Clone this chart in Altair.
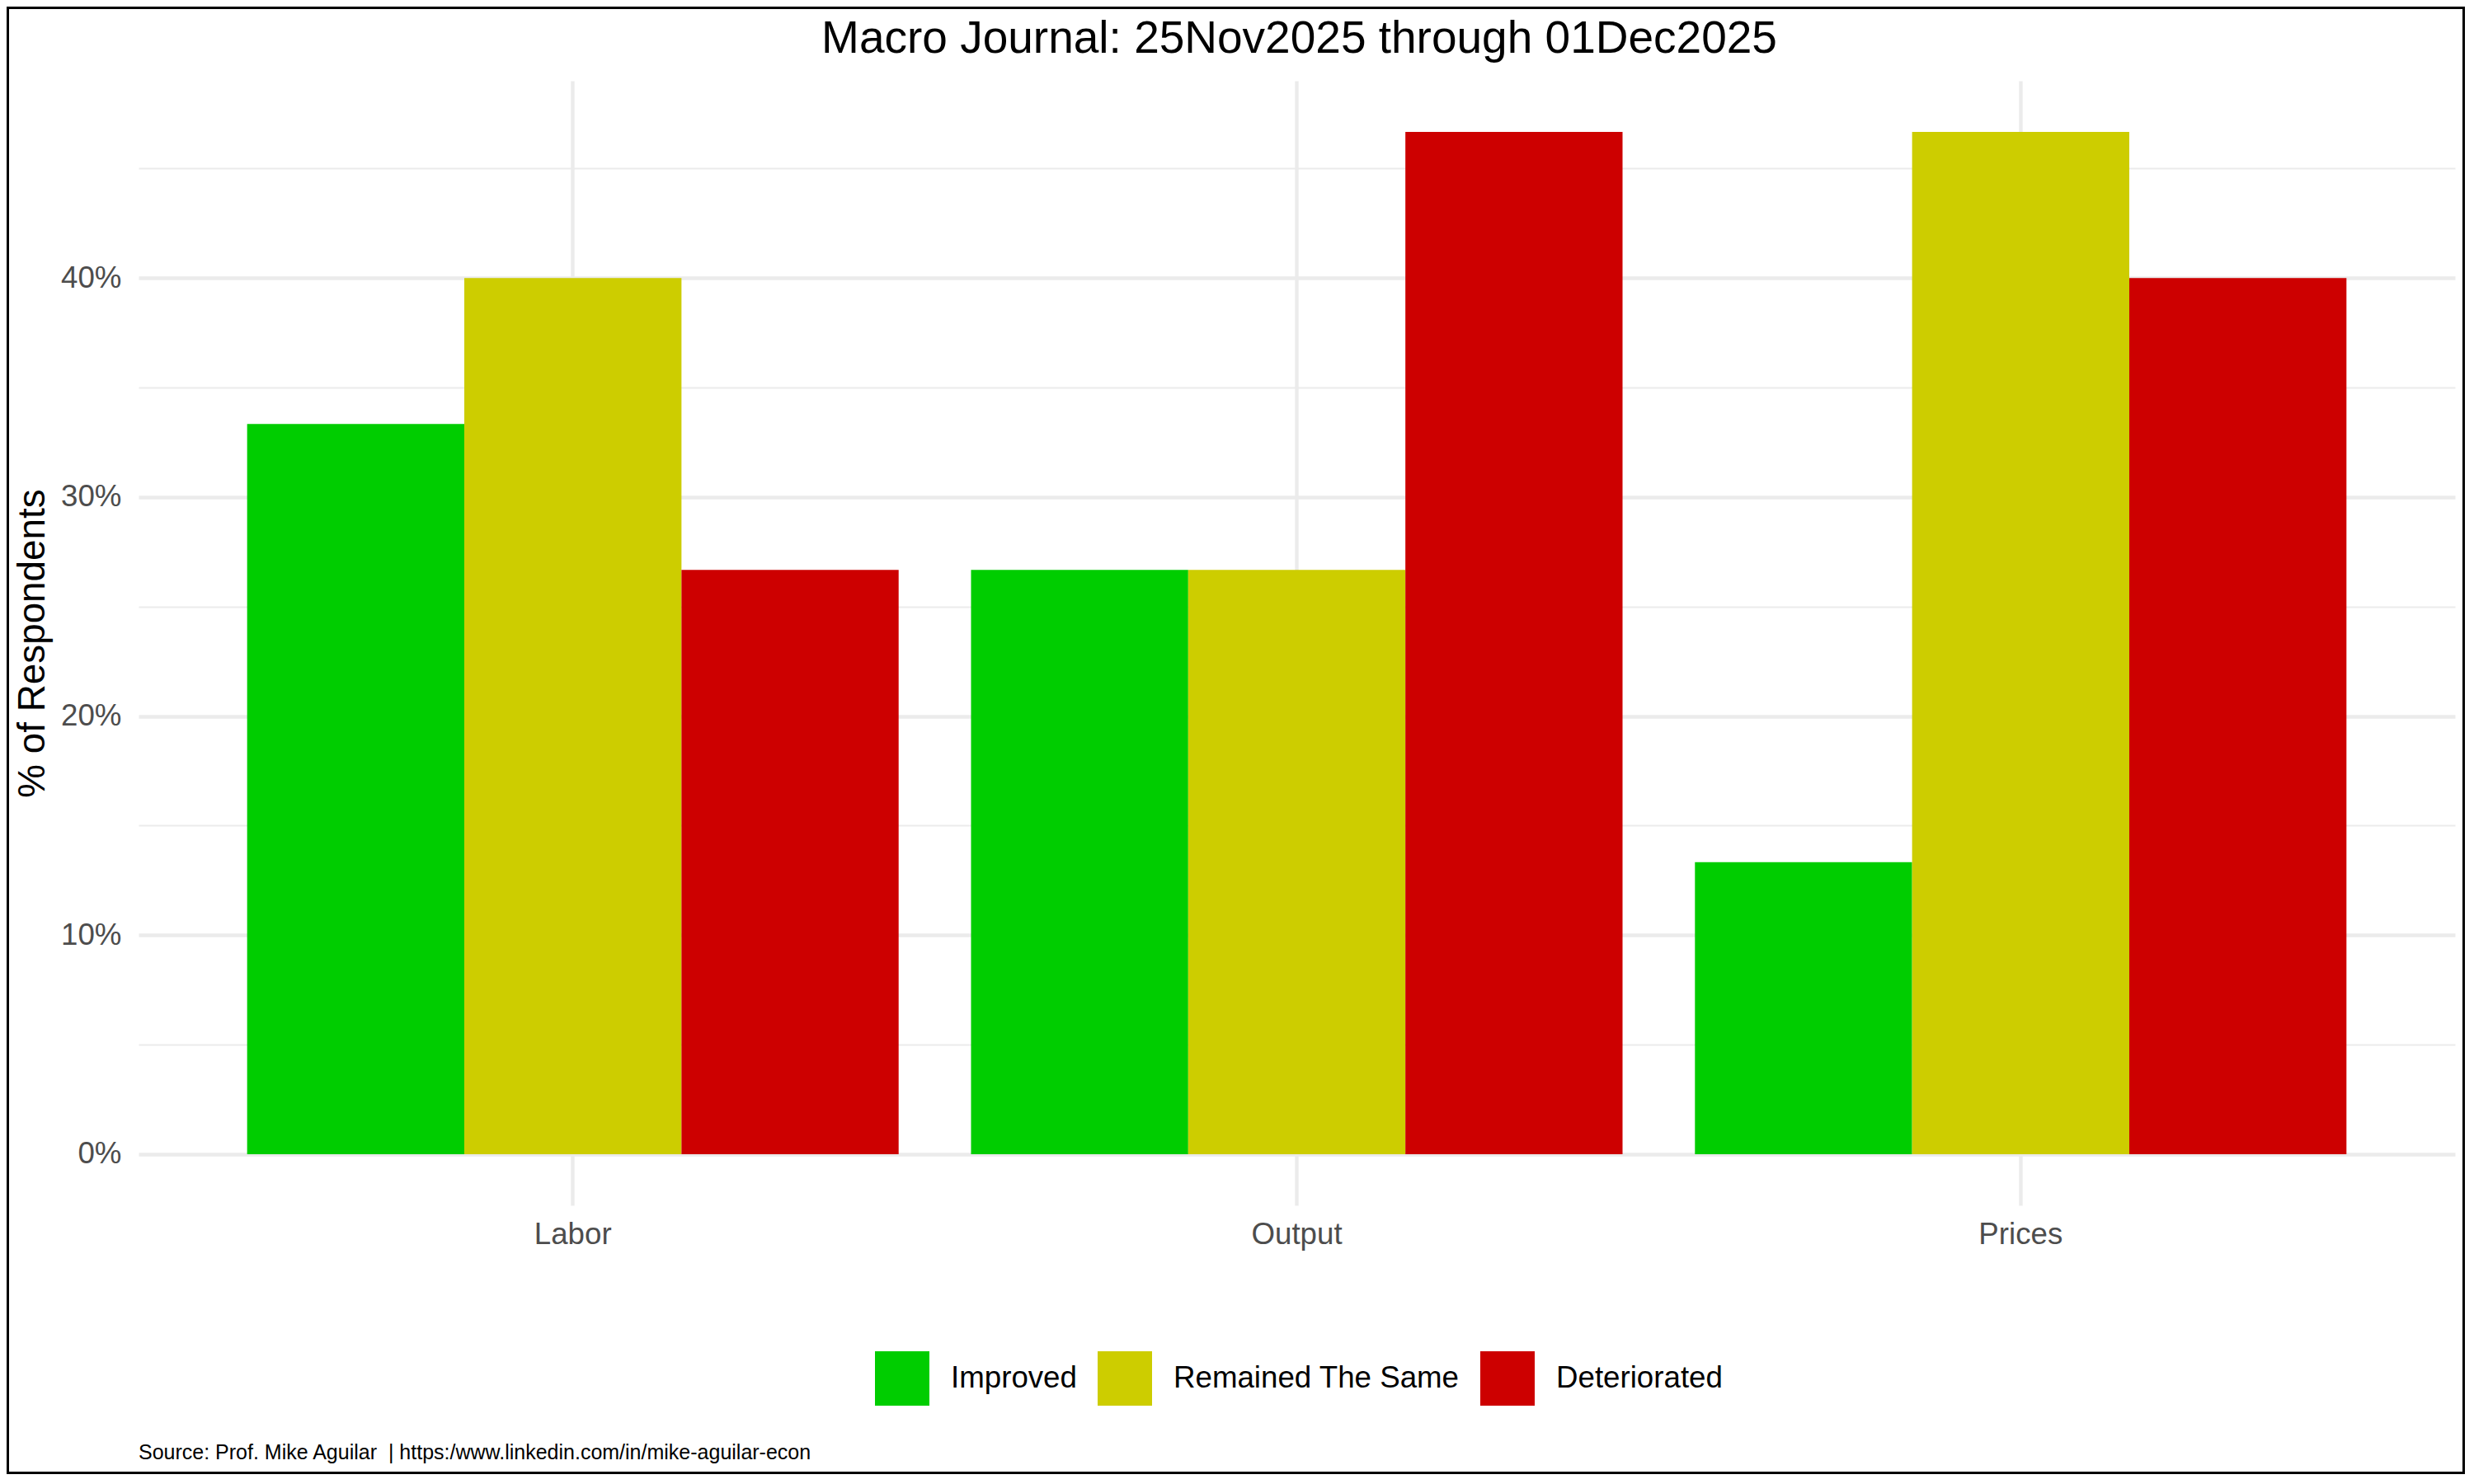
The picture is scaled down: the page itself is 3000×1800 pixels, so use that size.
import altair as alt
import pandas as pd

# ---- data ----
categories = ["Labor", "Output", "Prices"]
responses = ["Improved", "Remained The Same", "Deteriorated"]
improved = [33.33, 26.67, 13.33]
remained = [40.0, 26.67, 46.67]
deteriorated = [26.67, 46.67, 40.0]
colors = ["#00CD00", "#CDCD00", "#CD0000"]
y_ticks = [0, 5, 10, 15, 20, 25, 30, 35, 40, 45]

title_text = "Macro Journal: 25Nov2025 through 01Dec2025"
caption_text = "Source: Prof. Mike Aguilar\u00a0\u00a0| https:/www.linkedin.com/in/mike-aguilar-econ"
y_title = "% of Respondents"

rows = []
for i, cat in enumerate(categories):
    for resp, vals in zip(responses, [improved, remained, deteriorated]):
        rows.append({"Category": cat, "Response": resp, "Percent": vals[i]})
df = pd.DataFrame(rows)

FONT = "Liberation Sans"
W, H = 2809, 1364
PAD_L, PAD_T, PAD_R, PAD_B = 160, 90, 12, 326

bars = alt.Chart(df).mark_bar(strokeWidth=0).encode(
    x=alt.X(
        "Category:N",
        sort=categories,
        scale=alt.Scale(paddingInner=0.1, paddingOuter=0.15),
        axis=alt.Axis(
            title=None,
            labelFont=FONT,
            labelFontSize=36.7,
            labelColor="#4D4D4D",
            labelPadding=17,
            labelAngle=0,
            ticks=False,
            tickSize=0,
            domain=False,
            grid=True,
            gridColor="#EBEBEB",
            gridWidth=4.4,
            bandPosition=0.5,
        ),
    ),
    xOffset=alt.XOffset(
        "Response:N", sort=responses, scale=alt.Scale(paddingInner=0, paddingOuter=0)
    ),
    y=alt.Y(
        "Percent:Q",
        scale=alt.Scale(domain=[-2.3335, 49.0], nice=False, zero=False),
        axis=alt.Axis(
            values=y_ticks,
            labelExpr="datum.value % 10 === 0 ? datum.value + '%' : ''",
            labelFont=FONT,
            labelFontSize=36.7,
            labelColor="#4D4D4D",
            labelPadding=21,
            ticks=False,
            tickSize=0,
            domain=False,
            grid=True,
            gridColor="#EBEBEB",
            gridWidth={"condition": {"test": "datum.value % 10 !== 0", "value": 2.2}, "value": 4.4},
            title=y_title,
            titleFont=FONT,
            titleFontSize=45.8,
            titleFontWeight="normal",
            titleColor="#000000",
            titleAngle=270,
            titleX=-115,
            titleY=682,
            titleAlign="center",
            titleBaseline="alphabetic",
        ),
    ),
    y2=alt.datum(0),
    color=alt.Color(
        "Response:N",
        sort=responses,
        scale=alt.Scale(domain=responses, range=colors),
        legend=alt.Legend(
            title=None,
            orient="none",
            legendX=893,
            legendY=1541,
            direction="horizontal",
            symbolType="square",
            symbolSize=66 * 66,
            symbolStrokeWidth=0,
            symbolOpacity=1,
            labelFont=FONT,
            labelFontSize=36.7,
            labelColor="#000000",
            labelOffset=26,
            labelLimit=1000,
            columnPadding=25,
            padding=0,
        ),
    ),
)

title_layer = alt.Chart(pd.DataFrame({"t": [title_text]})).mark_text(
    font=FONT, fontSize=55, color="#000000", align="center", baseline="alphabetic"
).encode(x=alt.value(W / 2 + 3), y=alt.value(-34.5), text="t:N")

caption_layer = alt.Chart(pd.DataFrame({"t": [caption_text]})).mark_text(
    font=FONT, fontSize=25, color="#000000", align="left", baseline="alphabetic"
).encode(x=alt.value(0), y=alt.value(1672), text="t:N")

border = alt.Chart(pd.DataFrame({"b": [0]})).mark_rect(
    fillOpacity=0, stroke="#000000", strokeWidth=3
).encode(
    x=alt.value(-PAD_L + 1.5),
    x2=alt.value(W + PAD_R - 1.5),
    y=alt.value(-PAD_T + 1.5),
    y2=alt.value(H + PAD_B - 1.5),
)

chart = (
    alt.layer(bars, title_layer, caption_layer, border)
    .properties(
        width=W,
        height=H,
        padding={"left": PAD_L, "top": PAD_T, "right": PAD_R, "bottom": PAD_B},
        autosize=alt.AutoSizeParams(type="none"),
        background="#FFFFFF",
    )
    .configure(font=FONT)
    .configure_view(stroke="transparent", strokeWidth=0)
)

chart.save("out.html", embed_options={"renderer": "svg", "actions": False})
